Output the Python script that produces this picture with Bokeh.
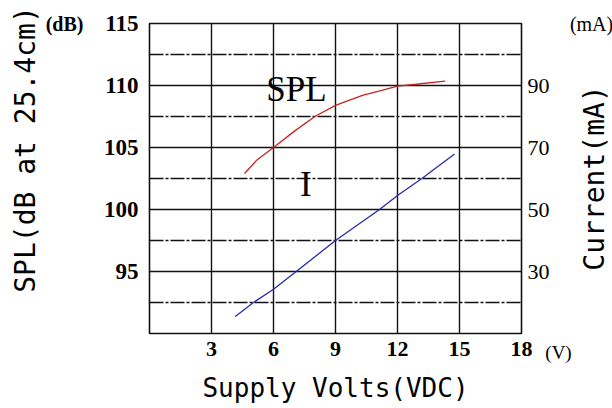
import math
from bokeh.plotting import figure
from bokeh.models import Range1d, LinearAxis, FixedTicker, Label
from bokeh.embed import file_html
from bokeh.resources import INLINE

# ---- data ----
volt_ticks = [3, 6, 9, 12, 15, 18]
spl_ticks = [95, 100, 105, 110, 115]
spl_dashdot = [92.5, 97.5, 102.5, 107.5, 112.5]
current_ticks = [30, 50, 70, 90]

spl_volts = [4.6, 5.2, 6.0, 7.0, 8.0, 9.0, 10.3, 11.1, 12.0, 12.9, 14.3]
spl_db = [102.9, 104.0, 105.0, 106.3, 107.5, 108.4, 109.2, 109.55, 109.95, 110.1, 110.35]

cur_volts = [4.15, 5.03, 6.0, 7.1, 9.0, 11.13, 12.0, 13.18, 14.76]
cur_ma = [15.5, 20.0, 24.3, 30.0, 40.0, 50.0, 54.5, 60.0, 67.9]

p = figure(width=612, height=408, x_range=Range1d(0, 18), y_range=Range1d(90, 115),
           output_backend="svg", toolbar_location=None,
           min_border_left=149, min_border_right=91, min_border_top=23, min_border_bottom=75,
           background_fill_color="white", border_fill_color="white")
p.extra_y_ranges = {"cur": Range1d(10, 110)}

p.outline_line_color = "#111111"
p.outline_line_width = 1.6

# grids
p.xgrid.ticker = FixedTicker(ticks=volt_ticks[:-1])
p.xgrid.grid_line_color = "#111111"
p.xgrid.grid_line_width = 1.4
p.ygrid.ticker = FixedTicker(ticks=spl_ticks[:-1], minor_ticks=spl_dashdot)
p.ygrid.grid_line_color = "#111111"
p.ygrid.grid_line_width = 1.4
p.ygrid.minor_grid_line_color = "#111111"
p.ygrid.minor_grid_line_width = 1.4
p.ygrid.minor_grid_line_dash = "14 2 3 2"

def style_axis(ax, size, bold, standoff):
    ax.axis_line_color = None
    ax.major_tick_line_color = None
    ax.minor_tick_line_color = None
    ax.major_tick_out = 0
    ax.major_tick_in = 0
    ax.major_label_standoff = standoff
    ax.major_label_text_font = "Liberation Serif"
    ax.major_label_text_font_size = size
    ax.major_label_text_font_style = "bold" if bold else "normal"
    ax.major_label_text_color = "black"

p.xaxis.ticker = FixedTicker(ticks=volt_ticks)
style_axis(p.xaxis[0], "22px", True, 8)
p.yaxis.ticker = FixedTicker(ticks=spl_ticks)
style_axis(p.yaxis[0], "23px", True, 11)

right = LinearAxis(y_range_name="cur", ticker=FixedTicker(ticks=current_ticks))
style_axis(right, "22px", False, 6)
p.add_layout(right, "right")

# curves
p.line(spl_volts, spl_db, line_color="#c82424", line_width=1.3)
p.line(cur_volts, cur_ma, y_range_name="cur", line_color="#2a2ab0", line_width=1.3)

def lab(x, y, text, font, size, side="center", style="normal", baseline="alphabetic", angle=0.0):
    p.add_layout(Label(x=x, y=y, text=text, text_font=font, text_font_size=size,
                       text_font_style=style, text_align="center", text_baseline=baseline,
                       angle=angle, text_color="black"), side)

lab(7.11, 109.68, "SPL", "Liberation Serif", "35px")
lab(7.57, 102.02, "I", "Liberation Serif", "35px")
lab(-4.11, 115.0, "(dB)", "Liberation Serif", "20px", side="left", style="bold", baseline="middle")
lab(21.39, 115.0, "(mA)", "Liberation Serif", "20px", side="above", baseline="middle")
lab(19.79, 88.47, "(V)", "Liberation Serif", "19px", side="left", baseline="middle")
lab(9.0, 85.59, "Supply Volts(VDC)", "DejaVu Sans Mono", "26px", side="below", baseline="middle")
lab(-6.0, 104.84, "SPL(dB at 25.4cm)", "DejaVu Sans Mono", "28px", side="left",
    baseline="middle", angle=math.pi / 2)
lab(21.53, 102.54, "Current(mA)", "DejaVu Sans Mono", "28px", side="right",
    baseline="middle", angle=math.pi / 2)

open("out.html", "w").write(file_html(p, INLINE))
